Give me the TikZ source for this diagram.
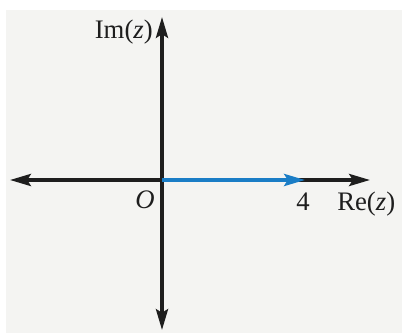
\documentclass[tikz,border=0pt]{standalone}
\usepackage{xcolor}
\usepackage{fontspec}
\setmainfont{Liberation Serif}
\usepackage{tikz}
\usetikzlibrary{arrows.meta, positioning, calc}
\definecolor{clrBg}{HTML}{F4F4F2}
\definecolor{clrAxis}{HTML}{1E1E1E}
\definecolor{clrBlue}{HTML}{1A7DC6}
\tikzset{
  >={Stealth[length=0.52cm, width=0.3cm, inset=0.09cm]},
  axis arr/.style={<->, line width=2.5pt, draw=clrAxis},
  vec arr/.style={->, line width=2.5pt, draw=clrBlue},
  lbl/.style={inner sep=0pt, font=\fontsize{19}{22}\selectfont, text=clrAxis},
}

\begin{document}
\begin{tikzpicture}[x=0.025cm, y=0.025cm]
  % Frame
  \useasboundingbox (-162,-153) rectangle (240,180);
  \fill[clrBg] (-156,-153) rectangle (240,170);

  % Axis ends
  \coordinate (O) at (0,0);
  \coordinate (xMin) at (-152,0);
  \coordinate (xMax) at (208,0);
  \coordinate (yMin) at (0,-150);
  \coordinate (yMax) at (0,163);
  \coordinate (P4) at (143,0);

  % Axes
  \draw[axis arr] (xMin) -- (xMax);
  \draw[axis arr] (yMin) -- (yMax);
  \draw[vec arr] (O) -- (P4);

  % Labels
  \node[lbl, anchor=base east] (lblIm) at (-9,141) {Im(\textit{z})};
  \node[lbl, anchor=base west] (lblRe) at (175,-31) {Re(\textit{z})};
  \node[lbl, anchor=base] (lblFour) at (141,-31) {4};
  \node[lbl, anchor=base] (lblO) at (-17,-29) {\textit{O}};
\end{tikzpicture}
\end{document}
